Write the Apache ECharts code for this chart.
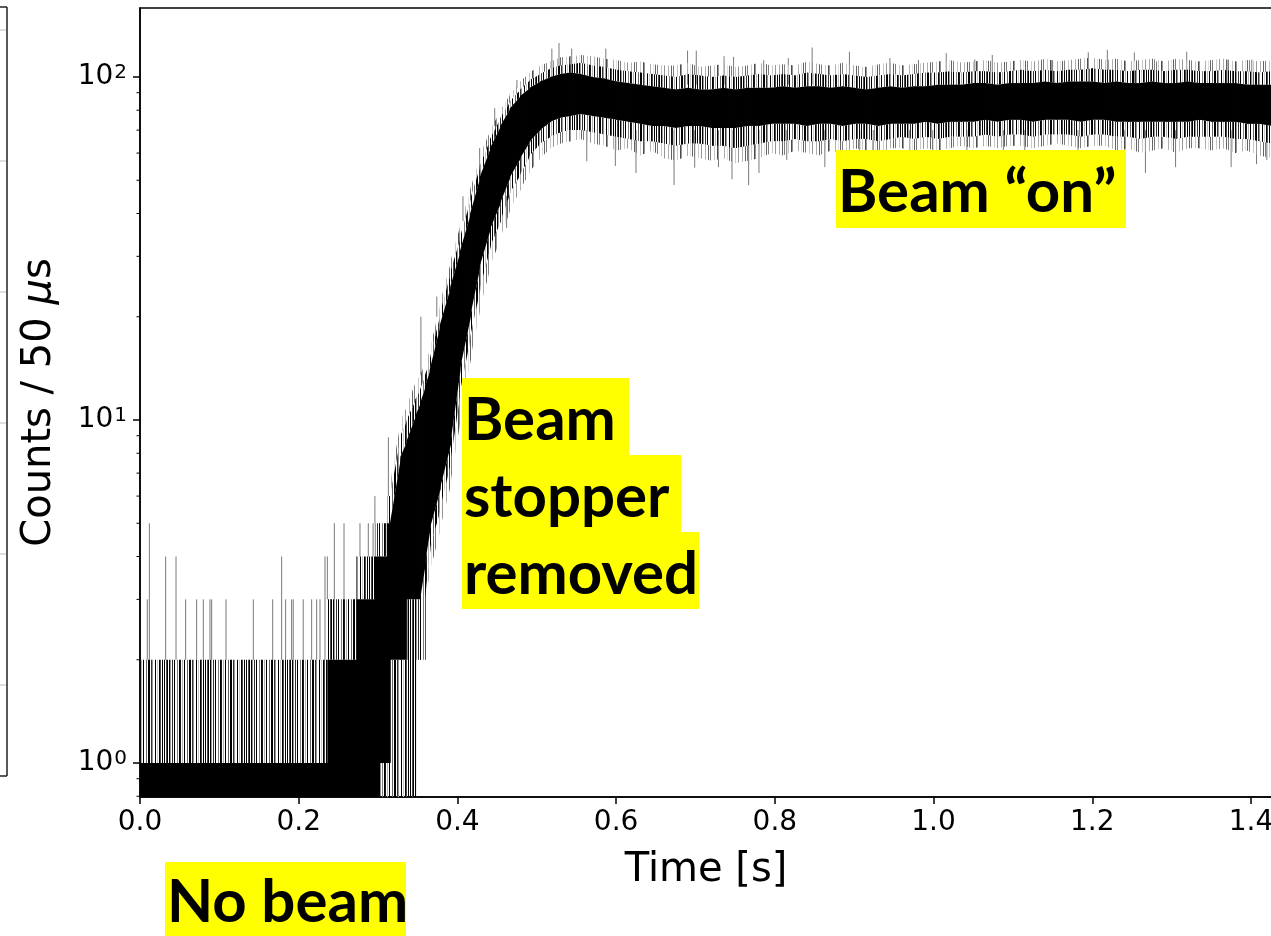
<!DOCTYPE html>
<html>
<head>
<meta charset="utf-8">
<script src="https://cdn.jsdelivr.net/npm/echarts@6/dist/echarts.min.js"></script>
<style>
  html, body { margin: 0; padding: 0; background: #fff; }
  #chart { width: 1271px; height: 936px; }
</style>
</head>
<body>
<div id="chart"></div>
<script>
// Count-rate trace (counts per 50 us bin), described by its envelope along time.
// core = solid central band, inner = dense noise, outer = sparse noise.
// Zero-count bins sit at 0.5 (below the axis floor). Repeated times mark steps.
const envT = [
  0.000, 0.236, 0.236, 0.273, 0.273, 0.296, 0.296, 0.302, 0.302, 0.311, 0.311, 0.315, 0.315, 0.328, 0.336, 0.336, 0.347, 0.347, 0.353, 0.359,
  0.359, 0.365, 0.378, 0.391, 0.403, 0.416, 0.428, 0.441, 0.454, 0.466, 0.479, 0.491, 0.504, 0.517, 0.529, 0.542,
  0.555, 0.570, 0.585, 0.600, 0.615, 0.630, 0.645, 0.660, 0.675, 0.690, 0.705, 0.720, 0.735, 0.750, 0.765, 0.780, 0.795, 0.810, 0.825, 0.840,
  0.855, 0.870, 0.885, 0.900, 0.915, 0.930, 0.945, 0.960, 0.975, 0.990, 1.005, 1.020, 1.035, 1.050, 1.065, 1.080, 1.095, 1.110, 1.125, 1.140,
  1.155, 1.170, 1.185, 1.200, 1.215, 1.230, 1.245, 1.260, 1.275, 1.290, 1.305, 1.320, 1.335, 1.350, 1.365, 1.380, 1.395, 1.410, 1.425, 1.440];
const envOuterLo = [
  0.5, 0.5, 0.5, 0.5, 0.5, 0.5, 0.5, 0.5, 0.5, 0.5, 0.5, 0.5, 0.5, 0.5, 0.5, 0.5, 0.5, 2, 2, 2,
  3, 3.6, 4.8, 6.5, 10, 15, 21, 28, 34, 41, 47, 53, 58, 62, 64, 65,
  66, 64, 63, 61, 62, 59, 61, 58, 57, 59, 58, 57, 58, 56, 57, 58, 60, 59, 61, 60,
  59, 61, 60, 62, 61, 60, 62, 62, 61, 62, 61, 62, 63, 62, 63, 62, 63, 63, 62, 63,
  64, 63, 62, 63, 63, 61, 62, 60, 61, 62, 60, 62, 62, 61, 62, 60, 61, 59, 58, 57];
const envInnerLo = [
  0.5, 0.5, 0.5, 0.5, 0.5, 0.5, 0.5, 0.5, 0.5, 0.5, 0.5, 0.5, 0.5, 0.5, 0.5, 0.5, 0.5, 2, 2, 2,
  3, 4.2, 5.5, 7.5, 12, 17.5, 24, 32, 38, 46, 52, 59, 64, 67, 69, 70,
  70, 69, 68, 67, 66, 65, 65, 64, 63, 64, 64, 63, 63, 62, 63, 64, 65, 65, 66, 65,
  65, 66, 65, 66, 66, 65, 66, 67, 66, 67, 66, 67, 67, 67, 68, 67, 68, 68, 67, 68,
  68, 68, 67, 68, 68, 67, 67, 66, 67, 67, 66, 67, 67, 67, 67, 66, 66, 65, 64, 63];
const envCoreLo = [
  0.5, 0.5, 0.5, 0.5, 0.5, 0.5, 0.5, 0.5, 1, 1, 1, 1, 2, 2, 2, 3, 3, 3, 3, 3.8,
  3.8, 4.8, 6.3, 8.5, 14, 20, 28, 36, 43, 51, 58, 65, 70, 74, 76, 77,
  78, 77, 76, 75, 74, 73, 72, 72, 71, 72, 72, 71, 71, 71, 72, 72, 73, 73, 73, 72,
  73, 73, 72, 73, 73, 72, 73, 73, 73, 74, 73, 74, 74, 74, 75, 74, 75, 75, 74, 75,
  75, 75, 74, 75, 75, 74, 74, 74, 74, 74, 74, 74, 75, 74, 74, 74, 73, 73, 72, 72];
const envCoreHi = [
  1, 1, 2, 2, 3, 3, 4, 4, 4, 4, 5, 5, 5, 7.8, 8.7, 8.7, 10.3, 10.3, 11.2, 12.5,
  12.5, 14, 19, 24.5, 31, 40, 51, 62, 72, 81, 88, 93, 97, 100, 102, 103,
  102, 100, 99, 97, 96, 95, 94, 93, 92, 93, 92, 92, 93, 92, 93, 93, 93, 94, 93, 94,
  94, 93, 94, 93, 92, 93, 94, 93, 94, 94, 95, 95, 95, 96, 96, 95, 96, 96, 96, 97,
  96, 97, 97, 97, 96, 97, 96, 96, 97, 96, 96, 97, 96, 96, 96, 96, 95, 95, 95, 94];
const envInnerHi = [
  2, 2, 3, 3, 4, 4, 5, 5, 5, 5, 6, 6, 6, 9, 10, 10, 11.5, 11.5, 12.3, 13.5,
  13.5, 15, 20.5, 27, 34, 44, 55, 66, 76, 85, 92, 98, 102, 106, 108, 109,
  110, 108, 107, 105, 104, 103, 102, 101, 100, 102, 101, 100, 101, 100, 101, 102, 101, 102, 101, 103,
  102, 101, 102, 101, 100, 101, 102, 101, 102, 103, 103, 104, 103, 104, 104, 103, 104, 105, 104, 105,
  104, 105, 105, 106, 105, 105, 104, 105, 105, 104, 105, 105, 104, 104, 105, 104, 104, 103, 104, 103];
const envOuterHi = [
  2, 2, 3, 3, 4, 4, 5, 5, 5, 5, 6.5, 6.5, 6.5, 10, 11, 11, 13, 13, 13.5, 14.8,
  14.8, 16, 22, 29, 37, 47, 59, 70, 80, 89, 97, 103, 108, 111, 114, 115,
  116, 115, 113, 112, 110, 111, 109, 108, 108, 110, 107, 108, 109, 107, 108, 110, 108, 109, 108, 111,
  109, 108, 110, 108, 107, 109, 110, 108, 109, 110, 111, 112, 110, 111, 112, 110, 111, 112, 111, 113,
  111, 112, 113, 114, 112, 113, 111, 112, 113, 111, 113, 112, 111, 112, 113, 111, 112, 111, 112, 111];

// Isolated excursions beyond the noise band: time, start count, end count
const spikeT    = [0.0092, 0.0118, 0.0323, 0.0454, 0.0575, 0.0714, 0.0798, 0.0882, 0.0903, 0.1084, 0.1428, 0.1672, 0.1785, 0.1835, 0.1911, 0.1931, 0.2057, 0.2163, 0.2226, 0.2268, 0.2331, 0.2361, 0.2449, 0.2571, 0.2730, 0.2772, 0.2877, 0.2937,
                   0.296, 0.313, 0.354, 0.374, 0.407, 0.428, 0.447, 0.475, 0.462,
                   0.519, 0.528, 0.544, 0.587, 0.690, 0.701, 0.736, 0.748, 0.786, 0.817, 0.847, 0.894, 0.945, 0.981, 1.016, 1.052, 1.074, 1.150, 1.195, 1.219, 1.253, 1.281, 1.319, 1.371, 1.401,
                   0.563, 0.599, 0.625, 0.673, 0.699, 0.729, 0.746, 0.767, 0.780, 0.815, 0.863, 0.907, 0.924, 0.970, 0.999, 1.042, 1.088, 1.115, 1.182, 1.241, 1.267, 1.305, 1.375, 1.407, 1.420];
const spikeFrom = [2, 2, 2, 2, 2, 2, 2, 2, 2, 2, 2, 2, 2, 2, 2, 2, 2, 2, 2, 2, 2, 3, 3, 3, 3, 4, 4, 4,
                   5, 6, 13.5, 20, 38, 55, 72, 93, 45,
                   95, 95, 95, 95, 95, 95, 95, 95, 95, 95, 95, 95, 95, 95, 95, 95, 95, 95, 95, 95, 95, 95, 95, 95, 95,
                   70, 70, 70, 70, 70, 70, 70, 70, 70, 70, 70, 70, 70, 70, 70, 70, 70, 70, 70, 70, 70, 70, 70, 70, 70];
const spikeTo   = [3, 5, 4, 4, 3, 3, 3, 3, 3, 3, 3, 3, 4, 3, 3, 3, 3, 3, 3, 3, 4, 4, 5, 5, 4, 5, 5, 5,
                   6.0, 8.9, 20.0, 22.9, 44.9, 62, 81.1, 98, 36.3,
                   121, 125.6, 121, 121, 119.4, 119.4, 115, 114.5, 112, 113.5, 121.9, 118.5, 113.5, 112, 117.4, 112.5, 116, 112, 118, 120, 117.9, 111, 118.5, 112.4, 112.4,
                   56.8, 55, 52.5, 48.4, 54.4, 54.6, 50.3, 48.4, 52.5, 57.3, 54.6, 58.6, 54.2, 55.7, 59.8, 57.3, 61.3, 58.6, 57.3, 57.3, 52.5, 54.6, 54.6, 55.7, 57.3];

// Axis ranges and ticks
const xMin = 0, xMax = 1.4265, xStep = 0.2;
const yMin = 0.796, yMax = 158.9;
const yMajorTicks = [1, 10, 100];
const yMinorTicks = [0.8, 0.9, 2, 3, 4, 5, 6, 7, 8, 9, 20, 30, 40, 50, 60, 70, 80, 90];

const LAYERS = [envOuterLo, envInnerLo, envCoreLo, envCoreHi, envInnerHi, envOuterHi];
const envSegments = [];
for (let i = 0; i < envT.length - 1; i++) {
  if (envT[i + 1] <= envT[i]) continue;
  envSegments.push([envT[i]].concat(LAYERS.map(a => a[i]), [envT[i + 1]], LAYERS.map(a => a[i + 1])));
}
const spikeData = spikeT.map((t, i) => [t, spikeFrom[i], spikeTo[i]]);

// Vertical hairline textures: digit = grey level (0 black .. 9 light), '.' = empty column
function stripeTile(spec) {
  const c = document.createElement('canvas');
  c.width = spec.length; c.height = 8;
  const g = c.getContext('2d');
  for (let i = 0; i < spec.length; i++) {
    const ch = spec[i];
    if (ch === '.') continue;
    const s = Number(ch) * 25;
    g.fillStyle = 'rgb(' + s + ',' + s + ',' + s + ')';
    g.fillRect(i, 0, 1, 8);
  }
  return c;
}
const innerFill = { image: stripeTile('0.30.06.2.0..5.01.7.0..4.00.26..0.8.03.0.'), repeat: 'repeat' };
const outerFill = { image: stripeTile('..7..4.5...8..36.....7..9.4.5...8..6.'), repeat: 'repeat' };

function renderEnvelope(params, api) {
  const t0 = api.value(0), t1 = api.value(7);
  const a = [1, 2, 3, 4, 5, 6].map(k => api.coord([t0, api.value(k)]));
  const b = [8, 9, 10, 11, 12, 13].map(k => api.coord([t1, api.value(k)]));
  const quad = (i, j) => [a[i], [b[i][0] + 0.8, b[i][1]], [b[j][0] + 0.8, b[j][1]], a[j]];
  return {
    type: 'group',
    children: [
      { type: 'polygon', shape: { points: quad(5, 4) }, style: { fill: outerFill } },
      { type: 'polygon', shape: { points: quad(1, 0) }, style: { fill: outerFill } },
      { type: 'polygon', shape: { points: quad(4, 3) }, style: { fill: innerFill } },
      { type: 'polygon', shape: { points: quad(2, 1) }, style: { fill: innerFill } },
      { type: 'polygon', shape: { points: quad(3, 2) }, style: { fill: '#000' } }
    ]
  };
}

function renderSpike(params, api) {
  const p0 = api.coord([api.value(0), api.value(1)]);
  const p1 = api.coord([api.value(0), api.value(2)]);
  return { type: 'line', shape: { x1: p0[0], y1: p0[1], x2: p1[0], y2: p1[1] },
           style: { stroke: '#7a7a7a', lineWidth: 1 } };
}

function tickRenderer(len, width) {
  return function (params, api) {
    const p = api.coord([xMin, api.value(1)]);
    return { type: 'line', shape: { x1: p[0] - len, y1: p[1], x2: p[0], y2: p[1] },
             style: { stroke: '#000', lineWidth: width } };
  };
}

const chart = echarts.init(document.getElementById('chart'), null, { renderer: 'canvas' });

const labelFont = 'Lato, "Open Sans", "Liberation Sans", sans-serif';
function noteBox(x, y, w, h, text) {
  return [
    { type: 'rect', shape: { x: x, y: y, width: w, height: h }, style: { fill: '#ffff00' }, z: 100 },
    { type: 'text', x: x + 2, y: y + h / 2 + 4, z: 101,
      style: { text: text, fill: '#000', font: 'bold 60px ' + labelFont,
               textAlign: 'left', textVerticalAlign: 'middle' } }
  ];
}

const leftEdge = [
  { type: 'line', shape: { x1: 7, y1: 7, x2: 7, y2: 776 }, style: { stroke: '#222', lineWidth: 1.5 } },
  { type: 'line', shape: { x1: 0, y1: 7, x2: 7, y2: 7 }, style: { stroke: '#222', lineWidth: 1.5 } },
  { type: 'line', shape: { x1: 0, y1: 776, x2: 7, y2: 776 }, style: { stroke: '#222', lineWidth: 1.5 } }
].concat([30, 161, 292, 423, 554, 685].map(y => ({
  type: 'line', shape: { x1: 0, y1: y, x2: 6, y2: y }, style: { stroke: '#bdbdbd', lineWidth: 1 }
})));

chart.setOption({
  animation: false,
  backgroundColor: '#fff',
  textStyle: { fontFamily: '"DejaVu Sans", sans-serif', color: '#000' },
  grid: {
    left: 140, top: 8, right: -1, bottom: 139,
    show: true, borderColor: '#000', borderWidth: 1.5,
    containLabel: false, outerBoundsMode: 'none'
  },
  xAxis: {
    type: 'value', min: xMin, max: xMax, interval: xStep,
    axisLine: { show: true, lineStyle: { color: '#000', width: 1.5 } },
    axisTick: { show: true, length: 7, lineStyle: { color: '#000', width: 1.5 } },
    splitLine: { show: false },
    axisLabel: { fontSize: 28, margin: 12, color: '#000', showMaxLabel: false,
                 fontFamily: '"DejaVu Sans", sans-serif',
                 formatter: v => v.toFixed(1) },
    name: 'Time [s]', nameLocation: 'middle', nameGap: 54,
    nameTextStyle: { fontSize: 40, color: '#000', fontFamily: '"DejaVu Sans", sans-serif' }
  },
  yAxis: {
    type: 'log', logBase: 10, min: yMin, max: yMax,
    axisLine: { show: true, lineStyle: { color: '#000', width: 1.5 } },
    axisTick: { show: false },
    splitLine: { show: false },
    axisLabel: {
      margin: 13, color: '#000', fontSize: 28, fontFamily: '"DejaVu Sans", sans-serif',
      showMinLabel: false, showMaxLabel: false,
      formatter: v => {
        const e = Math.log10(v);
        const r = Math.round(e);
        return Math.abs(e - r) < 1e-6 ? '10{sup|' + r + '}' : '';
      },
      rich: { sup: { fontSize: 20, verticalAlign: 'top', padding: [0, 0, 0, 1],
                     fontFamily: '"DejaVu Sans", sans-serif', color: '#000' } }
    },
    name: 'Counts / 50 {mu|μ}s', nameLocation: 'middle', nameGap: 80,
    nameTextStyle: { fontSize: 40, color: '#000', fontFamily: '"DejaVu Sans", sans-serif',
                     rich: { mu: { fontSize: 40, fontStyle: 'italic', color: '#000',
                                   fontFamily: '"DejaVu Sans", sans-serif' } } }
  },
  series: [
    { type: 'custom', name: 'envelope', clip: true, renderItem: renderEnvelope,
      encode: { x: [0, 7], y: [1, 2, 3, 4, 5, 6, 8, 9, 10, 11, 12, 13] }, data: envSegments, z: 2 },
    { type: 'custom', name: 'spikes', clip: true, renderItem: renderSpike,
      encode: { x: 0, y: [1, 2] }, data: spikeData, z: 1 },
    { type: 'custom', name: 'majorTicks', clip: false, renderItem: tickRenderer(7, 1.5),
      encode: { x: 0, y: 1 }, data: yMajorTicks.map(v => [xMin, v]), z: 5 },
    { type: 'custom', name: 'minorTicks', clip: false, renderItem: tickRenderer(3.5, 1),
      encode: { x: 0, y: 1 }, data: yMinorTicks.map(v => [xMin, v]), z: 5 }
  ],
  graphic: leftEdge
    .concat(noteBox(836, 150, 290, 78, 'Beam \u201con\u201d'))
    .concat(noteBox(462, 378, 167, 77, 'Beam'))
    .concat(noteBox(462, 455, 219, 77, 'stopper'))
    .concat(noteBox(462, 532, 237, 77, 'removed'))
    .concat(noteBox(165, 862, 241, 74, 'No beam'))
});
</script>
</body>
</html>
